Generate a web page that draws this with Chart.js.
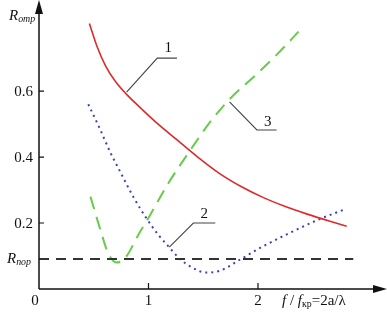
<!DOCTYPE html>
<html>
<head>
<meta charset="utf-8">
<script src="https://cdn.jsdelivr.net/npm/chart.js@4/dist/chart.umd.min.js"></script>
<style>
  html, body { margin: 0; padding: 0; background: #fff; }
  #wrap { width: 387px; height: 313px; position: relative; }
</style>
</head>
<body>
<div id="wrap"><canvas id="chart"></canvas></div>
<script>
/* Axis ticks */
var xTicks = [1, 2];
var yTicks = [0.2, 0.4, 0.6];
var yTickLabels = ['0.2', '0.4', '0.6'];

/* Curve 1 (red, solid) */
var curve1X = [0.46, 0.53, 0.61, 0.70, 0.80, 0.94, 1.08, 1.25, 1.45, 1.65, 1.85, 2.05, 2.25, 2.45, 2.65, 2.81];
var curve1Y = [0.805, 0.735, 0.675, 0.628, 0.590, 0.545, 0.502, 0.455, 0.40, 0.35, 0.31, 0.277, 0.25, 0.227, 0.206, 0.19];

/* Curve 2 (blue, dotted) */
var curve2X = [0.45, 0.55, 0.65, 0.75, 0.86, 0.99, 1.10, 1.18, 1.29, 1.40, 1.52, 1.65, 1.84, 2.05, 2.29, 2.55, 2.78];
var curve2Y = [0.56, 0.49, 0.415, 0.35, 0.28, 0.21, 0.16, 0.13, 0.09, 0.065, 0.05, 0.055, 0.09, 0.13, 0.17, 0.21, 0.24];

/* Curve 3 (green, dashed) */
var curve3X = [0.47, 0.56, 0.63, 0.71, 0.80, 0.90, 0.99, 1.18, 1.38, 1.56, 1.74, 2.00, 2.20, 2.37];
var curve3Y = [0.28, 0.18, 0.11, 0.08, 0.10, 0.16, 0.21, 0.32, 0.42, 0.505, 0.575, 0.655, 0.72, 0.78];

/* Threshold level R_пор */
var thresholdX = [0.0, 2.87];
var thresholdY = [0.091, 0.091];

function pts(xs, ys) {
  return xs.map(function (x, i) { return { x: x, y: ys[i] }; });
}

var SERIF = "'Liberation Serif', 'DejaVu Serif', serif";

/* Draw text made of runs: [text, italic, subscript] */
function runs(ctx, x, y, parts, size) {
  var cx = x;
  parts.forEach(function (p) {
    var sz = p[2] ? size * 0.66 : size;
    ctx.font = (p[1] ? 'italic ' : '') + sz + 'px ' + SERIF;
    ctx.fillText(p[0], cx, p[2] ? y + size * 0.24 : y);
    cx += ctx.measureText(p[0]).width;
  });
}

var axesPlugin = {
  id: 'axesPlugin',
  afterDatasetsDraw: function (chart) {
    var ctx = chart.ctx;
    var xs = chart.scales.x, ys = chart.scales.y;
    var x0 = xs.getPixelForValue(0), y0 = ys.getPixelForValue(0);
    ctx.save();
    ctx.strokeStyle = '#111';
    ctx.fillStyle = '#111';
    ctx.lineWidth = 1.5;
    ctx.setLineDash([]);

    /* axes */
    ctx.beginPath();
    ctx.moveTo(x0, y0); ctx.lineTo(x0, 8);
    ctx.moveTo(x0, y0); ctx.lineTo(378, y0);
    ctx.stroke();
    /* arrows */
    ctx.beginPath();
    ctx.moveTo(x0, 0); ctx.lineTo(x0 - 4, 14); ctx.lineTo(x0 + 4, 14); ctx.closePath();
    ctx.fill();
    ctx.beginPath();
    ctx.moveTo(387, y0); ctx.lineTo(373, y0 - 4); ctx.lineTo(373, y0 + 4); ctx.closePath();
    ctx.fill();

    /* ticks */
    ctx.lineWidth = 1.2;
    ctx.beginPath();
    yTicks.forEach(function (v) {
      var py = ys.getPixelForValue(v);
      ctx.moveTo(x0, py); ctx.lineTo(x0 + 5, py);
    });
    xTicks.forEach(function (v) {
      var px = xs.getPixelForValue(v);
      ctx.moveTo(px, y0); ctx.lineTo(px, y0 - 6);
    });
    ctx.stroke();

    ctx.font = '15px ' + SERIF;
    ctx.textBaseline = 'middle';
    ctx.textAlign = 'right';
    yTicks.forEach(function (v, i) {
      ctx.fillText(yTickLabels[i], x0 - 6, ys.getPixelForValue(v) + 1);
    });
    ctx.textAlign = 'center';
    ctx.fillText('0', x0 - 4, y0 + 12);
    xTicks.forEach(function (v) {
      ctx.fillText(String(v), xs.getPixelForValue(v), y0 + 12);
    });

    /* axis titles */
    ctx.textAlign = 'left';
    runs(ctx, 9, 16, [['R', true, false], ['отр', true, true]], 15);
    runs(ctx, 7, ys.getPixelForValue(thresholdY[0]), [['R', true, false], ['пор', true, true]], 15);
    runs(ctx, 282, y0 + 12, [['f', true, false], [' / ', false, false], ['f', true, false], ['кр', false, true], ['=2a/λ', false, false]], 15);

    /* curve labels with leaders (data coords) */
    var leaders = [
      { pts: [[0.80, 0.597], [1.08, 0.70], [1.26, 0.70]], label: '1', at: [1.18, 0.73] },
      { pts: [[1.74, 0.567], [1.99, 0.482], [2.17, 0.482]], label: '3', at: [2.09, 0.505] },
      { pts: [[1.19, 0.127], [1.41, 0.20], [1.61, 0.20]], label: '2', at: [1.51, 0.226] }
    ];
    ctx.strokeStyle = '#444';
    ctx.lineWidth = 1.1;
    leaders.forEach(function (l) {
      ctx.beginPath();
      l.pts.forEach(function (p, i) {
        var px = xs.getPixelForValue(p[0]), py = ys.getPixelForValue(p[1]);
        if (i === 0) ctx.moveTo(px, py); else ctx.lineTo(px, py);
      });
      ctx.stroke();
      ctx.font = '15px ' + SERIF;
      ctx.textAlign = 'center';
      ctx.fillText(l.label, xs.getPixelForValue(l.at[0]), ys.getPixelForValue(l.at[1]));
    });
    ctx.restore();
  }
};

new Chart(document.getElementById('chart').getContext('2d'), {
  type: 'scatter',
  data: {
    datasets: [
      {
        data: pts(thresholdX, thresholdY),
        showLine: true, borderColor: '#333', borderWidth: 1.8,
        borderDash: [10, 7], pointRadius: 0
      },
      {
        data: pts(curve1X, curve1Y),
        showLine: true, borderColor: '#dd2a2a', borderWidth: 1.6,
        pointRadius: 0, cubicInterpolationMode: 'monotone'
      },
      {
        data: pts(curve2X, curve2Y),
        showLine: true, borderColor: '#3a44b8', borderWidth: 2,
        borderDash: [2, 4], pointRadius: 0, cubicInterpolationMode: 'monotone'
      },
      {
        data: pts(curve3X, curve3Y),
        showLine: true, borderColor: '#66cc4a', borderWidth: 2,
        borderDash: [13, 8], pointRadius: 0, cubicInterpolationMode: 'monotone'
      }
    ]
  },
  options: {
    responsive: true,
    maintainAspectRatio: false,
    animation: false,
    layout: { padding: { left: 39, right: 2, top: 2, bottom: 24 } },
    scales: {
      x: { type: 'linear', display: false, min: 0, max: 3.16 },
      y: { type: 'linear', display: false, min: 0, max: 0.87 }
    },
    plugins: { legend: { display: false }, tooltip: { enabled: false } }
  },
  plugins: [axesPlugin]
});
</script>
</body>
</html>
